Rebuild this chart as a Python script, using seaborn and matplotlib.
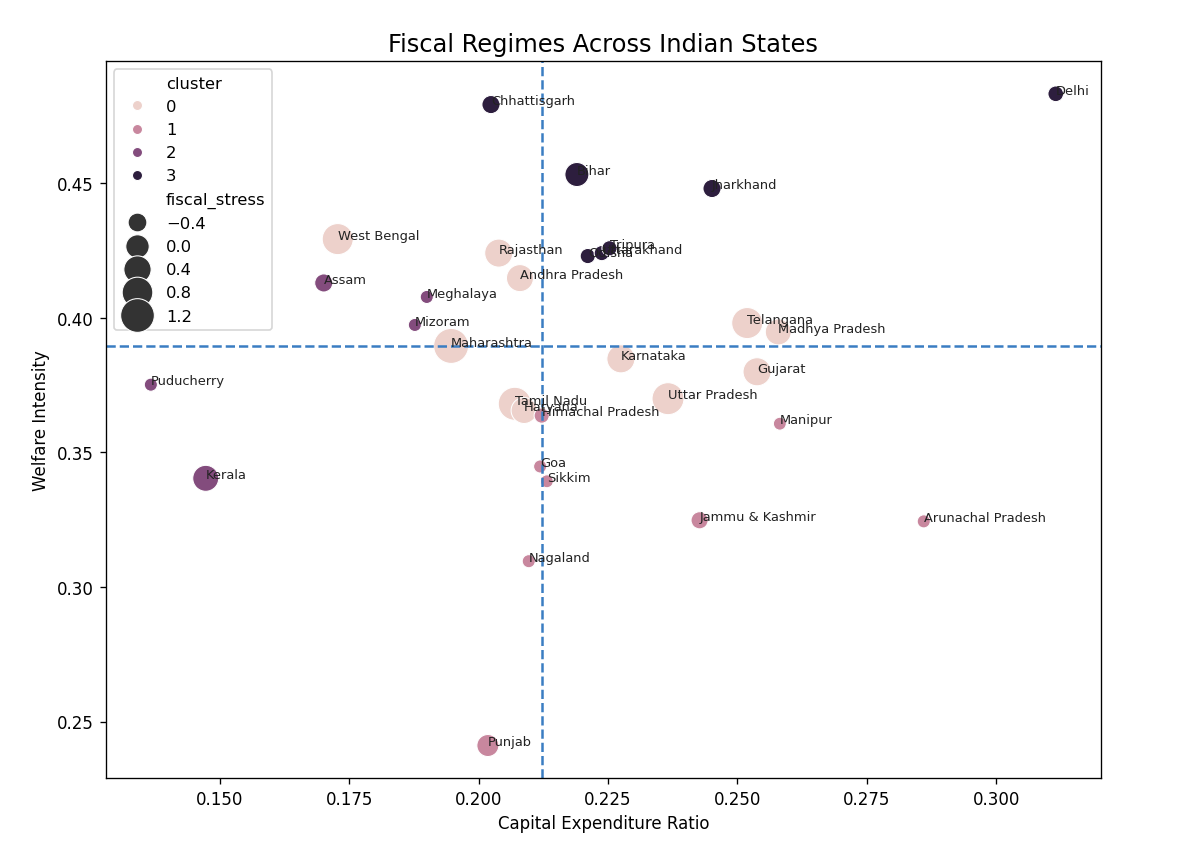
import numpy as np
import pandas as pd
import matplotlib
matplotlib.use("Agg")
import matplotlib.pyplot as plt
import seaborn as sns

# State level fiscal indicators
states = [
    "Chhattisgarh", "Delhi", "Bihar", "Jharkhand", "Odisha", "Uttarakhand", "Tripura",
    "West Bengal", "Rajasthan", "Andhra Pradesh", "Maharashtra", "Telangana",
    "Madhya Pradesh", "Karnataka", "Gujarat", "Uttar Pradesh", "Tamil Nadu", "Haryana",
    "Himachal Pradesh", "Goa", "Sikkim", "Nagaland", "Punjab", "Jammu & Kashmir",
    "Arunachal Pradesh", "Manipur", "Assam", "Meghalaya", "Mizoram", "Puducherry", "Kerala",
]
capex_ratio = [
    0.2024, 0.3115, 0.2190, 0.2451, 0.2211, 0.2238, 0.2253,
    0.1728, 0.2039, 0.2080, 0.1947, 0.2519,
    0.2579, 0.2275, 0.2538, 0.2366, 0.2070, 0.2088,
    0.2122, 0.2119, 0.2132, 0.2097, 0.2018, 0.2427,
    0.2860, 0.2582, 0.1701, 0.1900, 0.1877, 0.1367, 0.1473,
]
welfare_intensity = [
    0.4793, 0.4833, 0.4533, 0.4481, 0.4230, 0.4241, 0.4259,
    0.4293, 0.4241, 0.4148, 0.3896, 0.3981,
    0.3948, 0.3848, 0.3800, 0.3700, 0.3681, 0.3656,
    0.3637, 0.3448, 0.3393, 0.3096, 0.2411, 0.3248,
    0.3244, 0.3607, 0.4130, 0.4078, 0.3974, 0.3752, 0.3404,
]
fiscal_stress = [
    -0.45, -0.62, 0.06, -0.45, -0.65, -0.65, -0.65,
    0.85, 0.49, 0.37, 1.38, 0.85,
    0.26, 0.49, 0.49, 0.97, 1.11, 0.26,
    -0.65, -0.77, -0.78, -0.77, -0.13, -0.52,
    -0.77, -0.78, -0.45, -0.77, -0.77, -0.77, 0.26,
]
cluster = [
    3, 3, 3, 3, 3, 3, 3,
    0, 0, 0, 0, 0,
    0, 0, 0, 0, 0, 0,
    1, 1, 1, 1, 1, 1,
    1, 1, 2, 2, 2, 2, 2,
]

df = pd.DataFrame({
    "state": states,
    "capex_ratio": capex_ratio,
    "welfare_intensity": welfare_intensity,
    "fiscal_stress": fiscal_stress,
    "cluster": cluster,
})

# Plot
fig, ax = plt.subplots(figsize=(10, 7.04), dpi=120)
sns.scatterplot(
    data=df,
    x="capex_ratio",
    y="welfare_intensity",
    hue="cluster",
    size="fiscal_stress",
    sizes=(60, 440),
    ax=ax,
)

# State labels
for _, row in df.iterrows():
    ax.text(row["capex_ratio"], row["welfare_intensity"], row["state"],
            fontsize=7.8, color="#222222")

# Median split lines
ax.axvline(df["capex_ratio"].median(), linestyle="--", color="#3a7dc2", linewidth=1.5)
ax.axhline(df["welfare_intensity"].median(), linestyle="--", color="#3a7dc2", linewidth=1.5)

ax.set_title("Fiscal Regimes Across Indian States", fontsize=14.5)
ax.set_xlabel("Capital Expenditure Ratio")
ax.set_ylabel("Welfare Intensity")
ax.legend(loc="upper left", fontsize=9.8)

fig.subplots_adjust(left=0.088, right=0.9175, top=0.9266, bottom=0.078)
fig.savefig("out.png")
